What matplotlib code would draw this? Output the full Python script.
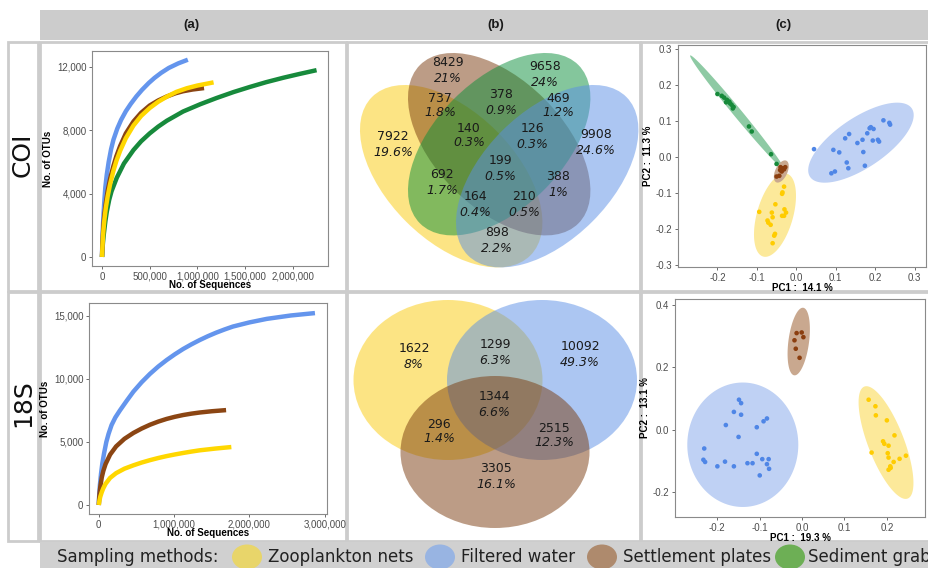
import numpy as np
import matplotlib
matplotlib.use("Agg")
import matplotlib.pyplot as plt
from matplotlib.patches import Ellipse, Rectangle, Polygon
from matplotlib.ticker import FuncFormatter, FormatStrFormatter

# ---------------- data ----------------
methods = ["Zooplankton nets", "Filtered water", "Settlement plates", "Sediment grab"]
col_headers = ["(a)", "(b)", "(c)"]
row_labels = ["COI", "18S"]

# (a) rarefaction curves, COI  (sequences, OTUs)
coi_zoo_seq = [0, 2e3, 5e3, 10e3, 15e3, 25e3, 40e3, 60e3, 87e3, 120e3, 150e3, 190e3, 250e3, 330e3,
               410e3, 500e3, 590e3, 680e3, 780e3, 890e3, 1000e3, 1170e3]
coi_zoo_otu = [0, 300, 700, 1250, 1700, 2350, 3100, 3850, 4650, 5450, 6050, 6700, 7500, 8300,
               8900, 9400, 9800, 10120, 10420, 10650, 10820, 11020]
coi_wat_seq = [0, 2e3, 5e3, 10e3, 15e3, 25e3, 35e3, 50e3, 70e3, 95e3, 120e3, 160e3, 200e3, 250e3,
               300e3, 360e3, 420e3, 490e3, 550e3, 620e3, 700e3, 800e3, 900e3]
coi_wat_otu = [0, 600, 1200, 2000, 2600, 3600, 4400, 5200, 6000, 6800, 7400, 8100, 8650, 9200,
               9650, 10130, 10550, 10980, 11300, 11620, 11930, 12220, 12450]
coi_pla_seq = [0, 2e3, 5e3, 10e3, 15e3, 25e3, 40e3, 60e3, 87e3, 120e3, 150e3, 190e3, 250e3, 330e3,
               410e3, 500e3, 590e3, 680e3, 770e3, 850e3, 950e3, 1070e3]
coi_pla_otu = [0, 400, 900, 1500, 2000, 2700, 3400, 4200, 5000, 5750, 6350, 7000, 7800, 8550,
               9100, 9560, 9880, 10130, 10330, 10460, 10570, 10660]
coi_sed_seq = [0, 2e3, 5e3, 10e3, 20e3, 35e3, 50e3, 75e3, 100e3, 155e3, 230e3, 330e3, 410e3, 500e3,
               590e3, 680e3, 850e3, 1030e3, 1200e3, 1380e3, 1550e3, 1720e3, 1900e3, 2070e3, 2250e3]
coi_sed_otu = [0, 200, 500, 900, 1500, 2250, 2850, 3600, 4150, 5000, 5900, 6750, 7300, 7800,
               8230, 8600, 9180, 9640, 10030, 10410, 10730, 11030, 11310, 11550, 11790]

# (a) rarefaction curves, 18S
s18_zoo_seq = [0, 5e3, 10e3, 20e3, 40e3, 60e3, 90e3, 150e3, 230e3, 340e3, 460e3, 570e3, 680e3,
               790e3, 900e3, 1010e3, 1120e3, 1230e3, 1340e3, 1550e3, 1760e3]
s18_zoo_otu = [0, 220, 400, 660, 1030, 1330, 1680, 2150, 2530, 2880, 3150, 3370, 3560,
               3730, 3880, 4010, 4130, 4240, 4340, 4480, 4600]
s18_wat_seq = [0, 3e3, 8e3, 15e3, 30e3, 47e3, 70e3, 100e3, 130e3, 170e3, 220e3, 280e3, 370e3, 460e3,
               570e3, 680e3, 790e3, 900e3, 1010e3, 1120e3, 1230e3, 1340e3, 1450e3, 1560e3,
               1670e3, 1780e3, 2000e3, 2230e3, 2550e3, 2870e3]
s18_wat_otu = [0, 500, 1000, 1600, 2500, 3300, 4100, 5000, 5650, 6350, 6950, 7500, 8265, 9000,
               9750, 10410, 10990, 11500, 11960, 12380, 12750, 13090, 13400, 13680,
               13930, 14160, 14490, 14770, 15040, 15230]
s18_pla_seq = [0, 5e3, 10e3, 20e3, 40e3, 60e3, 90e3, 150e3, 230e3, 340e3, 460e3, 570e3, 680e3,
               790e3, 900e3, 1010e3, 1120e3, 1230e3, 1340e3, 1500e3, 1690e3]
s18_pla_otu = [0, 500, 900, 1450, 2200, 2700, 3250, 4000, 4650, 5250, 5720, 6070, 6370,
               6620, 6830, 7000, 7140, 7250, 7340, 7440, 7530]

# (b) Venn counts
coi_venn_counts = [7922, 8429, 9658, 9908, 737, 378, 469, 692, 140, 126, 388, 199, 164, 210, 898]
coi_venn_pcts = ["19.6%", "21%", "24%", "24.6%", "1.8%", "0.9%", "1.2%", "1.7%", "0.3%",
                 "0.3%", "1%", "0.5%", "0.4%", "0.5%", "2.2%"]
s18_venn_counts = [1622, 1299, 10092, 1344, 296, 2515, 3305]
s18_venn_pcts = ["8%", "6.3%", "49.3%", "6.6%", "1.4%", "12.3%", "16.1%"]

# (c) PCA scores, COI
coi_pc1_sed = [-0.200, -0.189, -0.183, -0.176, -0.170, -0.178, -0.168, -0.164, -0.159, -0.161, -0.120, -0.113, -0.064, -0.050]
coi_pc2_sed = [0.175, 0.170, 0.165, 0.159, 0.154, 0.152, 0.149, 0.145, 0.139, 0.135, 0.085, 0.071, 0.008, -0.019]
coi_pc1_pla = [-0.041, -0.034, -0.028, -0.037, -0.043, -0.031, -0.040, -0.050]
coi_pc2_pla = [-0.036, -0.031, -0.028, -0.040, -0.052, -0.034, -0.028, -0.054]
coi_pc1_zoo = [-0.031, -0.035, -0.036, -0.053, -0.094, -0.062, -0.030, -0.026, -0.031, -0.036, -0.060, -0.073, -0.071, -0.065, -0.054, -0.056, -0.060]
coi_pc2_zoo = [-0.082, -0.098, -0.102, -0.131, -0.152, -0.154, -0.145, -0.154, -0.163, -0.163, -0.167, -0.176, -0.182, -0.188, -0.213, -0.218, -0.239]
coi_pc1_wat = [0.045, 0.094, 0.109, 0.124, 0.134, 0.155, 0.168, 0.170, 0.180, 0.186, 0.189, 0.196, 0.194, 0.207, 0.210, 0.221, 0.236, 0.238, 0.128, 0.132, 0.089, 0.098, 0.174]
coi_pc2_wat = [0.022, 0.020, 0.013, 0.052, 0.064, 0.039, 0.048, 0.014, 0.066, 0.080, 0.083, 0.078, 0.046, 0.048, 0.043, 0.102, 0.095, 0.090, -0.015, -0.031, -0.045, -0.040, -0.024]

# (c) PCA scores, 18S
s18_pc1_pla = [-0.013, -0.001, 0.003, -0.018, -0.015, -0.006]
s18_pc2_pla = [0.309, 0.311, 0.296, 0.286, 0.259, 0.230]
s18_pc1_zoo = [0.157, 0.173, 0.174, 0.200, 0.218, 0.191, 0.194, 0.204, 0.202, 0.164, 0.230, 0.216, 0.204, 0.245, 0.208, 0.204, 0.209]
s18_pc2_zoo = [0.096, 0.075, 0.046, 0.030, -0.018, -0.037, -0.045, -0.051, -0.075, -0.073, -0.093, -0.103, -0.089, -0.083, -0.117, -0.128, -0.122]
s18_pc1_wat = [-0.231, -0.233, -0.229, -0.200, -0.182, -0.180, -0.161, -0.161, -0.149, -0.144, -0.144, -0.150, -0.129, -0.117, -0.107, -0.107, -0.100, -0.094, -0.091, -0.083, -0.083, -0.079, -0.078]
s18_pc2_wat = [-0.060, -0.096, -0.103, -0.117, -0.102, 0.015, 0.057, -0.117, 0.096, 0.085, 0.048, -0.023, -0.107, -0.107, -0.077, 0.008, -0.146, -0.094, 0.027, 0.036, -0.110, -0.094, -0.125]

coi_pc_labels = ["PC1 :  14.1 %", "PC2 :  11.3 %"]
s18_pc_labels = ["PC1 :  19.3 %", "PC2 :  13.1 %"]

# ---------------- style ----------------
W, H = 929, 568
C_LINE = {"zoo": "#FFD700", "wat": "#6495ED", "pla": "#8B4513", "sed": "#178A3C"}
C_PT = {"zoo": "#FFCC00", "wat": "#4F86E6", "pla": "#8B3E0F", "sed": "#168A3A"}
C_ELL = {"zoo": "#FCE99A", "wat": "#BFD1F4", "pla": "#C9A88F", "sed": "#8ECAA4"}
C_VENN = {"zoo": "#FBCB0A", "wat": "#5A8FE6", "pla": "#7A3B0E", "sed": "#0A8F3A"}
C_LEG = {"zoo": "#E8D56A", "wat": "#98B4E2", "pla": "#AE8A6D", "sed": "#6DAF55"}
GRAY = "#cccccc"
SANS = ["Liberation Sans", "DejaVu Sans"]

fig = plt.figure(figsize=(W / 100, H / 100), dpi=100)
bg = fig.add_axes([0, 0, 1, 1], zorder=0)
bg.set_xlim(0, W)
bg.set_ylim(H, 0)
bg.axis("off")


def rect(x0, y0, x1, y1, fc, ec="none", lw=0.0):
    bg.add_patch(Rectangle((x0, y0), x1 - x0, y1 - y0, facecolor=fc,
                           edgecolor=ec, linewidth=lw, zorder=1))


# header band and panel cells
rect(40, 10, W + 5, 40, GRAY)
for hx, txt in zip([191, 496, 783], col_headers):
    bg.text(hx, 25, txt, ha="center", va="center", fontsize=9.5, fontweight="bold",
            family=SANS, color="#1a1a1a", zorder=3)
rows = [(41.5, 290.5), (292, 541)]
for (y0, y1), lab, ly in zip(rows, row_labels, [155, 403]):
    rect(8.5, y0, 38.5, y1, "white", GRAY, 2.0)
    for (x0, x1) in [(40.5, 346), (347, 640), (641, W + 10)]:
        rect(x0, y0, x1, y1, "white", GRAY, 2.0)
    bg.text(23, ly, lab, rotation=90, ha="center", va="center", fontsize=18,
            family="DejaVu Sans", color="#111111", zorder=3)

# legend band
rect(40, 542, W + 5, H + 5, "#d0d0d0")
bg.text(57, 557, "Sampling methods:", ha="left", va="center", fontsize=12,
        family="DejaVu Sans", color="#222222", zorder=3)
leg_keys = ["zoo", "wat", "pla", "sed"]
for key, cx, tx, lab in zip(leg_keys, [247, 440, 602, 790], [268, 461, 623, 808], methods):
    bg.add_patch(Ellipse((cx, 557), 30, 25, facecolor=C_LEG[key], edgecolor="none", zorder=2))
    bg.text(tx, 557, lab, ha="left", va="center", fontsize=12, family="DejaVu Sans",
            color="#222222", zorder=3)

# ---------------- (b) Venn diagrams ----------------
# COI: 4-set ellipses (VennDiagram layout), pixel coordinates
venn4 = [("zoo", (451.2, 176.2), 45), ("pla", (499.2, 144.2), 45),
         ("sed", (499.2, 144.2), -45), ("wat", (547.2, 176.2), -45)]
for key, c, ang in venn4:
    bg.add_patch(Ellipse(c, 224, 128, angle=ang, facecolor=C_VENN[key], alpha=0.5,
                         edgecolor="none", zorder=2))
coi_venn_pos = [(393, 137), (448, 63), (545, 67), (596, 135), (440, 98), (501, 95), (558, 98),
                (442, 175), (469, 128), (532, 129), (558, 177), (500, 161), (475, 197),
                (524, 197), (497, 233)]
for (x, y), n, p in zip(coi_venn_pos, coi_venn_counts, coi_venn_pcts):
    bg.text(x, y, str(n), ha="center", va="center", fontsize=9, family="DejaVu Sans",
            color="#1a1a1a", zorder=4)
    bg.text(x, y + 15, p, ha="center", va="center", fontsize=9, family="DejaVu Sans",
            style="italic", color="#1a1a1a", zorder=4)

venn3 = [("zoo", (448, 380), 189, 160), ("wat", (542, 380), 190, 160), ("pla", (495, 452), 189, 152)]
for key, c, w, h in venn3:
    bg.add_patch(Ellipse(c, w, h, facecolor=C_VENN[key], alpha=0.5, edgecolor="none", zorder=2))
s18_venn_pos = [(414, 349), (495, 345), (580, 347), (494, 397), (439, 424), (554, 428), (496, 469)]
for (x, y), n, p in zip(s18_venn_pos, s18_venn_counts, s18_venn_pcts):
    bg.text(x, y, str(n), ha="center", va="center", fontsize=9, family="DejaVu Sans",
            color="#1a1a1a", zorder=4)
    bg.text(x, y + 15, p, ha="center", va="center", fontsize=9, family="DejaVu Sans",
            style="italic", color="#1a1a1a", zorder=4)


# ---------------- helpers ----------------
def fax(l, t, r, b):
    ax = fig.add_axes([l / W, 1 - b / H, (r - l) / W, (b - t) / H], zorder=2)
    ax.set_facecolor("white")
    for s in ax.spines.values():
        s.set_color("#8a8a8a")
        s.set_linewidth(0.8)
    ax.tick_params(direction="out", length=2.5, width=0.6, color="#555555",
                   labelcolor="#4d4d4d", labelsize=7, pad=1.5)
    return ax


def finish(ax):
    for lab in ax.get_xticklabels() + ax.get_yticklabels():
        lab.set_family(SANS)


comma = FuncFormatter(lambda v, p: "{:,.0f}".format(v))

# ---------------- (a) rarefaction ----------------
ax = fax(92, 51, 328, 266)
for xs, ys, key in [(coi_sed_seq, coi_sed_otu, "sed"), (coi_wat_seq, coi_wat_otu, "wat"),
                    (coi_pla_seq, coi_pla_otu, "pla"), (coi_zoo_seq, coi_zoo_otu, "zoo")]:
    ax.plot(xs, ys, color=C_LINE[key], lw=3.2, solid_capstyle="butt", solid_joinstyle="round")
ax.set_xlim(-105000, 2370000)
ax.set_ylim(-570, 13000)
ax.set_xticks([0, 500000, 1000000, 1500000, 2000000])
ax.set_yticks([0, 4000, 8000, 12000])
ax.xaxis.set_major_formatter(comma)
ax.yaxis.set_major_formatter(comma)
ax.set_xlabel("No. of Sequences", fontsize=7, fontweight="bold", family=SANS, labelpad=-1)
ax.set_ylabel("No. of OTUs", fontsize=7, fontweight="bold", family=SANS, labelpad=3)
finish(ax)

ax = fax(89, 303, 327, 514)
for xs, ys, key in [(s18_wat_seq, s18_wat_otu, "wat"), (s18_pla_seq, s18_pla_otu, "pla"),
                    (s18_zoo_seq, s18_zoo_otu, "zoo")]:
    ax.plot(xs, ys, color=C_LINE[key], lw=3.2, solid_capstyle="butt", solid_joinstyle="round")
ax.set_xlim(-130000, 3030000)
ax.set_ylim(-714, 16030)
ax.set_xticks([0, 1000000, 2000000, 3000000])
ax.set_yticks([0, 5000, 10000, 15000])
ax.xaxis.set_major_formatter(comma)
ax.yaxis.set_major_formatter(comma)
ax.set_xlabel("No. of Sequences", fontsize=7, fontweight="bold", family=SANS, labelpad=-1)
ax.set_ylabel("No. of OTUs", fontsize=7, fontweight="bold", family=SANS, labelpad=3)
finish(ax)


# ---------------- (c) PCA ----------------
def ell(ax, c, A, B, color):
    t = np.linspace(0, 2 * np.pi, 120)
    pts = np.column_stack([c[0] + np.cos(t) * A[0] + np.sin(t) * B[0],
                           c[1] + np.cos(t) * A[1] + np.sin(t) * B[1]])
    ax.add_patch(Polygon(pts, closed=True, facecolor=color, edgecolor="none", zorder=1))


ax = fax(678, 45, 926, 267)
ell(ax, (-0.150, 0.124), (-0.119, 0.158), (0.0085, 0.0075), C_ELL["sed"])
ell(ax, (0.164, 0.040), (0.129, 0.095), (0.0355, -0.0575), C_ELL["wat"])
ell(ax, (-0.054, -0.161), (0.030, 0.115), (0.044, -0.0136), C_ELL["zoo"])
ell(ax, (-0.038, -0.040), (0.0127, 0.030), (0.014, -0.007), C_ELL["pla"])
for xs, ys, key in [(coi_pc1_sed, coi_pc2_sed, "sed"), (coi_pc1_wat, coi_pc2_wat, "wat"),
                    (coi_pc1_zoo, coi_pc2_zoo, "zoo"), (coi_pc1_pla, coi_pc2_pla, "pla")]:
    ax.scatter(xs, ys, s=11, color=C_PT[key], edgecolors="none", zorder=3)
ax.set_xlim(-0.300, 0.329)
ax.set_ylim(-0.305, 0.311)
ax.set_xticks([-0.2, -0.1, 0.0, 0.1, 0.2, 0.3])
ax.set_yticks([-0.3, -0.2, -0.1, 0.0, 0.1, 0.2, 0.3])
ax.xaxis.set_major_formatter(FormatStrFormatter("%.1f"))
ax.yaxis.set_major_formatter(FormatStrFormatter("%.1f"))
ax.set_xlabel(coi_pc_labels[0], fontsize=7, fontweight="bold", family=SANS, labelpad=0)
ax.set_ylabel(coi_pc_labels[1], fontsize=7, fontweight="bold", family=SANS, labelpad=2)
finish(ax)

ax = fax(675, 299, 925, 517)
ell(ax, (-0.008, 0.282), (0.0106, 0.108), (0.0241, -0.0044), C_ELL["pla"])
ell(ax, (0.198, -0.041), (-0.0512, 0.179), (0.0396, 0.0208), C_ELL["zoo"])
ell(ax, (-0.140, -0.048), (0.131, 0.0), (0.0, 0.199), C_ELL["wat"])
for xs, ys, key in [(s18_pc1_pla, s18_pc2_pla, "pla"), (s18_pc1_zoo, s18_pc2_zoo, "zoo"),
                    (s18_pc1_wat, s18_pc2_wat, "wat")]:
    ax.scatter(xs, ys, s=11, color=C_PT[key], edgecolors="none", zorder=3)
ax.set_xlim(-0.300, 0.290)
ax.set_ylim(-0.279, 0.418)
ax.set_xticks([-0.2, -0.1, 0.0, 0.1, 0.2])
ax.set_yticks([-0.2, 0.0, 0.2, 0.4])
ax.xaxis.set_major_formatter(FormatStrFormatter("%.1f"))
ax.yaxis.set_major_formatter(FormatStrFormatter("%.1f"))
ax.set_xlabel(s18_pc_labels[0], fontsize=7, fontweight="bold", family=SANS, labelpad=0)
ax.set_ylabel(s18_pc_labels[1], fontsize=7, fontweight="bold", family=SANS, labelpad=2)
finish(ax)

fig.savefig("out.png", dpi=100)
